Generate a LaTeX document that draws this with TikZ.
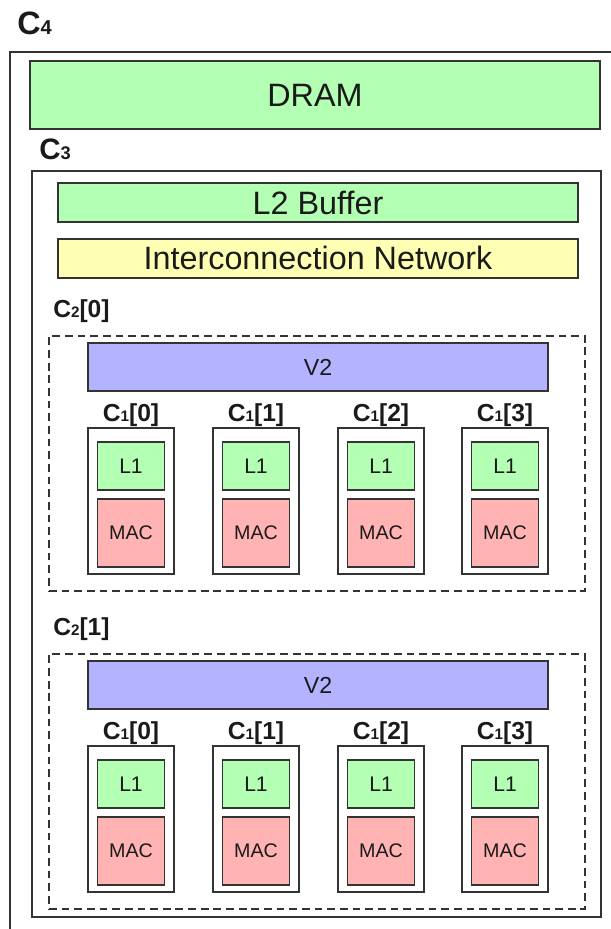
\documentclass[tikz,border=0pt]{standalone}
\usepackage{fontspec}
\setmainfont{Liberation Sans}
\usetikzlibrary{positioning}
\definecolor{Mint}{HTML}{B3FFB3}
\definecolor{Blush}{HTML}{FFB3B3}
\definecolor{Lavender}{HTML}{B3B3FF}
\definecolor{Butter}{HTML}{FFFFB3}
\definecolor{Edge}{HTML}{333333}
\definecolor{Ink}{HTML}{1A1A1A}
\newcommand{\lvl}[1]{\scalebox{0.62}{#1}}

\begin{document}
\begin{tikzpicture}[x=0.025cm, y=0.025cm,
    every node/.style={inner sep=0pt, text=Ink},
    outline/.style={draw=Edge, line width=1.2pt},
    block/.style={draw=Edge, line width=1.2pt, align=center},
    bigbox/.style={block, minimum width=14.25cm, minimum height=1.7cm,
        font=\fontsize{23}{27}\selectfont},
    wide/.style={block, minimum width=13cm, minimum height=0.975cm,
        font=\fontsize{23}{27}\selectfont},
    c2box/.style={draw=Edge, line width=1.2pt, dash pattern=on 5.5pt off 3.5pt,
        minimum width=13.4cm, minimum height=6.375cm},
    vbox/.style={block, fill=Lavender, minimum width=11.5cm, minimum height=1.2cm,
        font=\fontsize{16.5}{19}\selectfont},
    c1box/.style={outline, minimum width=2.15cm, minimum height=3.65cm},
    lone/.style={block, fill=Mint, minimum width=1.675cm, minimum height=1.2cm,
        font=\fontsize{15}{18}\selectfont},
    mac/.style={block, fill=Blush, minimum width=1.675cm, minimum height=1.7cm,
        font=\fontsize{14}{17}\selectfont},
    lvllabel/.style={font=\bfseries\fontsize{17.5}{21}\selectfont},
]
\useasboundingbox (0,0) rectangle (611,929);

% === C4: off-chip level ===
\node[font=\bfseries\fontsize{23}{27}\selectfont, anchor=base west] (c4lab) at (17, 894) {C\lvl{4}};
\draw[outline] (10,-20) -- (10,877) -- (640,877);

\node[bigbox, fill=Mint] (dram) at (315, 834) {DRAM};

% === C3: chip ===
\node[font=\bfseries\fontsize{21}{25}\selectfont, anchor=base west] (c3lab) at (39, 769) {C\lvl{3}};
\node[c1box, minimum width=14.225cm, minimum height=18.65cm] (c3) at (316.5, 385) {};

\node[wide, fill=Mint] (l2) at (318, 726.5) {L2 Buffer};
\node[wide, fill=Butter, below=0.375cm of l2] (noc) {Interconnection Network};

% === C2 clusters and their C1 units ===
\foreach \g/\yo in {0/0, 1/318} {
    \node[c2box] (c2\g) at (317, 465.5-\yo) {};
    \node[lvllabel, anchor=base west] (c2lab\g) at (53, 611-\yo) {C\lvl{2}[\g]};
    \node[vbox] (v2\g) at (318, 562-\yo) {V2};
    \foreach \i/\cx in {0/131, 1/256, 2/381, 3/505} {
        \node[c1box] (c1\g\i) at (\cx, 428-\yo) {};
        \node[lvllabel, anchor=base] (c1lab\g\i) at (\cx, 507-\yo) {C\lvl{1}[\i]};
        \node[lone] (l1\g\i) at (\cx, 463-\yo) {L1};
        \node[mac, below=0.175cm of l1\g\i] (mac\g\i) {MAC};
    }
}

\end{tikzpicture}
\end{document}
